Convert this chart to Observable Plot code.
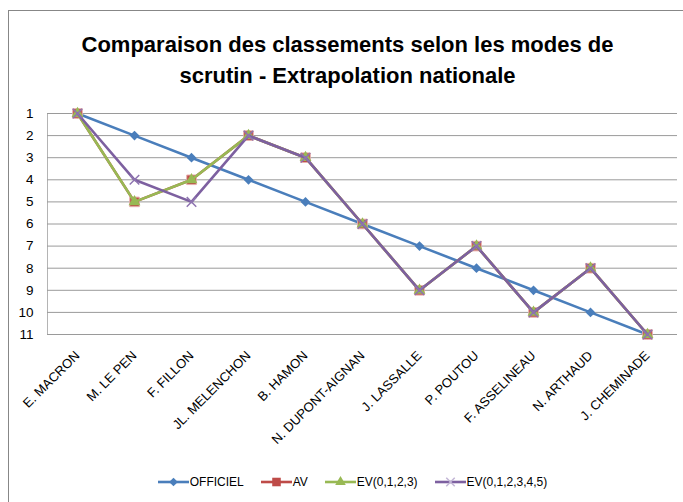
<!DOCTYPE html>
<html>
<head>
<meta charset="utf-8">
<script src="https://cdn.jsdelivr.net/npm/d3@7"></script>
<script src="https://cdn.jsdelivr.net/npm/@observablehq/plot@0.6"></script>
<style>
  html, body { margin: 0; padding: 0; background: #fff; }
  #wrap { position: relative; width: 683px; height: 502px; overflow: hidden; background: #fff; font-family: "Liberation Sans", Arial, sans-serif; }
  #border { position: absolute; left: 8px; top: 10px; width: 700px; height: 520px; border-top: 1px solid #878787; border-left: 1px solid #878787; }
  #title { position: absolute; left: 6px; width: 683px; top: 29px; text-align: center; font-weight: bold; font-size: 22px; line-height: 31px; color: #000; }
  #chart { position: absolute; left: 0; top: 100px; }
  #legend { position: absolute; left: 11px; width: 683px; top: 475px; display: flex; justify-content: center; gap: 17px; font-size: 12px; color: #000; }
  .item { display: flex; align-items: center; gap: 1px; }
</style>
</head>
<body>
<div id="wrap">
  <div id="border"></div>
  <div id="title"></div>
  <div id="chart"></div>
  <div id="legend"></div>
</div>
<script>
const TITLE_LINES = ["Comparaison des classements selon les modes de", "scrutin - Extrapolation nationale"];
const CATEGORIES = ["E. MACRON", "M. LE PEN", "F. FILLON", "JL. MELENCHON", "B. HAMON", "N. DUPONT-AIGNAN", "J. LASSALLE", "P. POUTOU", "F. ASSELINEAU", "N. ARTHAUD", "J. CHEMINADE"];
const SERIES_NAMES = ["OFFICIEL", "AV", "EV(0,1,2,3)", "EV(0,1,2,3,4,5)"];
const OFFICIEL = [1, 2, 3, 4, 5, 6, 7, 8, 9, 10, 11];
const AV = [1, 5, 4, 2, 3, 6, 9, 7, 10, 8, 11];
const EV_0123 = [1, 5, 4, 2, 3, 6, 9, 7, 10, 8, 11];
const EV_012345 = [1, 4, 5, 2, 3, 6, 9, 7, 10, 8, 11];
const Y_TICKS = [1, 2, 3, 4, 5, 6, 7, 8, 9, 10, 11];

const SERIES_VALUES = [OFFICIEL, AV, EV_0123, EV_012345];
const COLORS = ["#4A7EBB", "#BE4B48", "#98B954", "#7D60A0"];
const MARKER_STROKES = ["none", "#E6B0AE", "none", "#8E74B0"];
const SYMBOLS = ["diamond2", "square", "triangle", "times"];
const RADII = [4.4, 5.4, 4.4, 4.4];

document.getElementById("title").innerHTML = TITLE_LINES.join("<br>");

const marks = [
  Plot.gridY(Y_TICKS, {stroke: "#9a9a9a", strokeOpacity: 1, strokeWidth: 1}),
  Plot.axisY({ticks: Y_TICKS, tickSize: 0, tickPadding: 14, tickFormat: d => String(d), fontSize: 13.5, fill: "#000"}),
  Plot.axisX({tickRotate: -45, tickSize: 0, tickPadding: 19, fontSize: 13, fill: "#000"})
];

SERIES_NAMES.forEach((name, i) => {
  const rows = CATEGORIES.map((c, j) => ({cat: c, value: SERIES_VALUES[i][j], series: name}));
  marks.push(Plot.line(rows, {x: "cat", y: "value", stroke: COLORS[i], strokeWidth: 2.6}));
  if (SYMBOLS[i] === "times") {
    marks.push(Plot.dot(rows, {x: "cat", y: "value", symbol: "times", r: RADII[i], stroke: MARKER_STROKES[i], strokeWidth: 1.5}));
  } else {
    marks.push(Plot.dot(rows, {x: "cat", y: "value", symbol: SYMBOLS[i], r: RADII[i], fill: COLORS[i], stroke: MARKER_STROKES[i], strokeWidth: 1}));
  }
});

const chart = Plot.plot({
  width: 683,
  height: 360,
  marginLeft: 47,
  marginRight: 6,
  marginTop: 13,
  marginBottom: 126,
  style: {fontFamily: "Liberation Sans, Arial, sans-serif", color: "#000", background: "transparent", overflow: "visible"},
  x: {type: "point", domain: CATEGORIES, padding: 0.5, label: null},
  y: {domain: [1, 11], reverse: true, label: null},
  marks
});
// light gray left axis line along the plot frame
const ys = chart.scale("y");
d3.select(chart).insert("line", ":first-child")
  .attr("x1", 47.5).attr("x2", 47.5)
  .attr("y1", ys.apply(Y_TICKS[0])).attr("y2", ys.apply(Y_TICKS[Y_TICKS.length - 1]))
  .attr("stroke", "#b4b4b4");
document.getElementById("chart").appendChild(chart);

// legend
const legend = d3.select("#legend");
const symMap = {diamond2: d3.symbolDiamond2, square: d3.symbolSquare, triangle: d3.symbolTriangle, times: d3.symbolTimes};
SERIES_NAMES.forEach((name, i) => {
  const item = legend.append("div").attr("class", "item");
  const svg = item.append("svg").attr("width", 31).attr("height", 14);
  svg.append("line").attr("x1", 0).attr("x2", 31).attr("y1", 7).attr("y2", 7)
    .attr("stroke", COLORS[i]).attr("stroke-width", 2.6);
  const size = Math.PI * RADII[i] * RADII[i] * 0.8;
  const p = svg.append("path").attr("transform", "translate(15.5,7)")
    .attr("d", d3.symbol(symMap[SYMBOLS[i]], size)());
  if (SYMBOLS[i] === "times") p.attr("fill", "none").attr("stroke", "#C3B6D6").attr("stroke-width", 1.5);
  else p.attr("fill", COLORS[i]);
  item.append("span").text(name);
});
</script>
</body>
</html>
